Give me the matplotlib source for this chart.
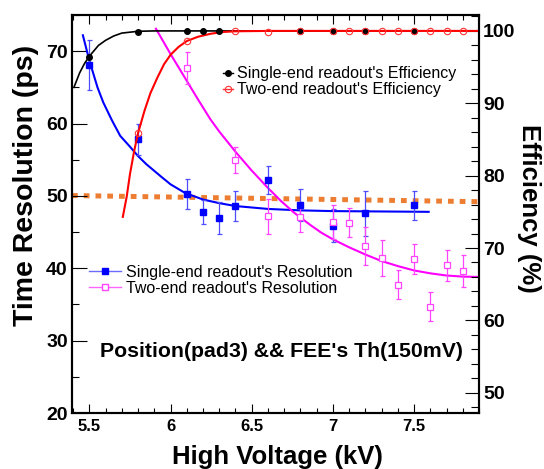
import matplotlib
matplotlib.use('Agg')
import matplotlib.pyplot as plt
from matplotlib.ticker import MultipleLocator
from matplotlib.lines import Line2D

plt.rcParams['font.family'] = ['Liberation Sans', 'DejaVu Sans']

# ---- data ----
hv_single = [5.5, 5.8, 6.1, 6.2, 6.3, 6.4, 6.6, 6.8, 7.0, 7.2, 7.5]
res_single = [68.1, 57.8, 50.3, 47.8, 47.0, 48.6, 52.2, 48.7, 45.9, 47.6, 48.7]
res_single_err = [3.4, 2.2, 2.1, 1.7, 2.2, 2.1, 2.0, 2.2, 2.3, 3.1, 2.0]

hv_two = [6.1, 6.4, 6.6, 6.8, 7.0, 7.1, 7.2, 7.3, 7.4, 7.5, 7.6, 7.7, 7.8]
res_two = [67.7, 54.9, 47.2, 47.1, 46.4, 46.3, 43.1, 41.4, 37.7, 41.3, 34.7, 40.4, 39.6]
res_two_err = [2.2, 1.8, 2.4, 2.1, 2.3, 2.0, 2.6, 2.5, 2.0, 2.1, 2.0, 2.1, 2.2]

eff_single_hv = [5.5, 5.8, 6.1, 6.2, 6.3, 6.8, 7.0, 7.2, 7.5]
eff_single = [96.4, 99.9, 100, 100, 100, 100, 100, 100, 100]

eff_two_hv = [5.8, 6.1, 6.4, 6.6, 6.8, 7.0, 7.1, 7.2, 7.3, 7.4, 7.5, 7.6, 7.7, 7.8]
eff_two = [85.9, 98.6, 100, 99.8, 100, 100, 100, 100, 100, 100, 100, 100, 100, 100]

# fit curves
fit_res_single_hv = [5.46, 5.50, 5.55, 5.586, 5.64, 5.69, 5.75, 5.80, 5.85, 5.94, 6.0,
                     6.09, 6.2, 6.3, 6.4, 6.6, 6.8, 7.0, 7.59]
fit_res_single = [72.2, 68.7, 65.0, 62.9, 60.4, 58.3, 56.8, 55.5, 54.4, 52.7, 51.6,
                  50.4, 49.5, 49.0, 48.6, 48.2, 48.0, 47.9, 47.8]

fit_res_two_hv = [5.91, 6.0, 6.1, 6.17, 6.245, 6.30, 6.4, 6.5, 6.6, 6.68, 6.76, 6.86,
                  6.93, 7.0, 7.1, 7.2, 7.3, 7.4, 7.5, 7.6, 7.7, 7.8, 7.9]
fit_res_two = [73.1, 69.6, 65.9, 63.3, 60.6, 58.9, 56.1, 53.5, 51.1, 49.3, 47.7, 46.0,
               44.9, 44.0, 42.9, 41.9, 41.0, 40.3, 39.7, 39.3, 39.0, 38.85, 38.8]

fit_eff_single_hv = [5.405, 5.44, 5.47, 5.50, 5.556, 5.60, 5.65, 5.70, 5.80, 5.90, 7.5]
fit_eff_single = [92.2, 94.2, 95.5, 96.5, 98.0, 98.7, 99.3, 99.7, 99.95, 100, 100]

fit_eff_two_hv = [5.706, 5.73, 5.75, 5.775, 5.80, 5.84, 5.876, 5.92, 5.96, 6.0, 6.05,
                  6.1, 6.17, 6.245, 6.32, 6.4, 6.6, 7.9]
fit_eff_two = [74.3, 77.1, 80.2, 83.3, 85.9, 89.0, 91.4, 93.6, 95.4, 96.7, 97.8,
               98.6, 99.2, 99.6, 99.85, 99.95, 100, 100]

ref_hv = [5.393, 7.9]
ref_res = [50.05, 49.2]

fig = plt.figure(figsize=(5.44, 4.69), dpi=100)
ax = fig.add_axes([72/544, 56/469, 407/544, 398/469])
ax2 = ax.twinx()

blue = '#0000ff'
blue_err = '#4d4dff'
mag = '#ff00ff'
mag_mk = '#ff44ff'

# resolution (left axis)
ax.plot(ref_hv, ref_res, color='#ed7d31', lw=3.6, ls=(0, (1.15, 1.2)),
        solid_capstyle='butt', dash_capstyle='butt', zorder=1.5)
ax.plot(fit_res_single_hv, fit_res_single, color=blue, lw=1.5, zorder=2)
ax.plot(fit_res_two_hv, fit_res_two, color=mag, lw=1.5, zorder=2)
ax.errorbar(hv_single, res_single, yerr=res_single_err, fmt='s', ms=4.3,
            color=blue, ecolor=blue_err, elinewidth=0.9, capsize=1.8, capthick=0.9, zorder=3)
ax.errorbar(hv_two, res_two, yerr=res_two_err, fmt='s', ms=5, mfc='white',
            mec=mag_mk, mew=0.9, ecolor=mag_mk, elinewidth=0.9, capsize=1.8, capthick=0.9, zorder=3)

# efficiency (right axis)
ax2.plot(fit_eff_single_hv, fit_eff_single, color='black', lw=1.2, zorder=2)
ax2.plot(fit_eff_two_hv, fit_eff_two, color='#ff0000', lw=1.5, zorder=2)
ax2.plot(eff_single_hv, eff_single, 'o', color='black', ms=4, zorder=3)
ax2.plot(eff_two_hv, eff_two, 'o', mfc='none', mec='#ff3333', mew=0.8, ms=4.6, zorder=3)

ax.set_xlim(5.393, 7.9)
ax.set_ylim(20, 75)
ax2.set_ylim(47.2, 102.2)

ax.xaxis.set_major_locator(MultipleLocator(0.5))
ax.xaxis.set_minor_locator(MultipleLocator(0.1))
ax.yaxis.set_major_locator(MultipleLocator(10))
ax.yaxis.set_minor_locator(MultipleLocator(5))
ax2.yaxis.set_major_locator(MultipleLocator(10))
ax2.yaxis.set_minor_locator(MultipleLocator(2))
ax.set_xticks([5.5, 6, 6.5, 7, 7.5])
ax.set_xticklabels(['5.5', '6', '6.5', '7', '7.5'])

ax.tick_params(axis='x', which='both', direction='in', top=True, bottom=True,
               labelsize=12, pad=4, width=0.8)
ax.tick_params(axis='x', which='major', length=6.5)
ax.tick_params(axis='x', which='minor', length=3.6)
ax.tick_params(axis='y', which='both', direction='in', left=True, right=False,
               labelsize=14, pad=3, width=0.8)
ax.tick_params(axis='y', which='major', length=10.8)
ax.tick_params(axis='y', which='minor', length=5)
ax2.tick_params(axis='y', which='both', direction='in', labelsize=14, pad=3, width=0.8)
ax2.tick_params(axis='y', which='major', length=10)
ax2.tick_params(axis='y', which='minor', length=5.8)
for lab in ax.get_xticklabels() + ax.get_yticklabels() + ax2.get_yticklabels():
    lab.set_fontweight('bold')
for a in (ax, ax2):
    for sp in a.spines.values():
        sp.set_linewidth(1.5)

# legends
h_single = Line2D([], [], color='#6b6bff', lw=1, marker='s', ms=4.3, mfc=blue, mec=blue)
h_two = Line2D([], [], color='#ff66ff', lw=1, marker='s', ms=5, mfc='white', mec=mag_mk)
ax.legend([h_single, h_two],
          ["Single-end readout's Resolution", "Two-end readout's Resolution"],
          loc='center left', bbox_to_anchor=(0.042, 0.333), frameon=False,
          fontsize=11.5, handlelength=2.0, handletextpad=0.3,
          borderpad=0, borderaxespad=0, labelspacing=0.05)

e_single = Line2D([], [], color='black', lw=1, marker='o', ms=4)
e_two = Line2D([], [], color='#ff3333', lw=1, marker='o', ms=4.6, mfc='none', mew=0.8)
ax2.legend([e_single, e_two],
           ["Single-end readout's Efficiency", "Two-end readout's Efficiency"],
           loc='center left', bbox_to_anchor=(0.371, 0.832), frameon=False,
           fontsize=11.5, handlelength=0.6, handletextpad=0.25,
           borderpad=0, borderaxespad=0, labelspacing=0.05)

ax.text(0.0688, 0.1415, "Position(pad3) && FEE's Th(150mV)", transform=ax.transAxes,
        fontsize=15.3, fontweight='bold', va='baseline', ha='left')

fig.text(277.5/544, 1 - 464.3/469, 'High Voltage (kV)', fontsize=18.5,
         fontweight='bold', ha='center', va='baseline')
fig.text(33/544, 1 - 185/469, 'Time Resolution (ps)', fontsize=20.5, fontweight='bold',
         rotation=90, rotation_mode='anchor', ha='center', va='baseline')
fig.text(521.7/544, 1 - 208/469, 'Efficiency (%)', fontsize=18.5, fontweight='bold',
         rotation=270, rotation_mode='anchor', ha='center', va='baseline')

fig.savefig('out.png', dpi=100)
